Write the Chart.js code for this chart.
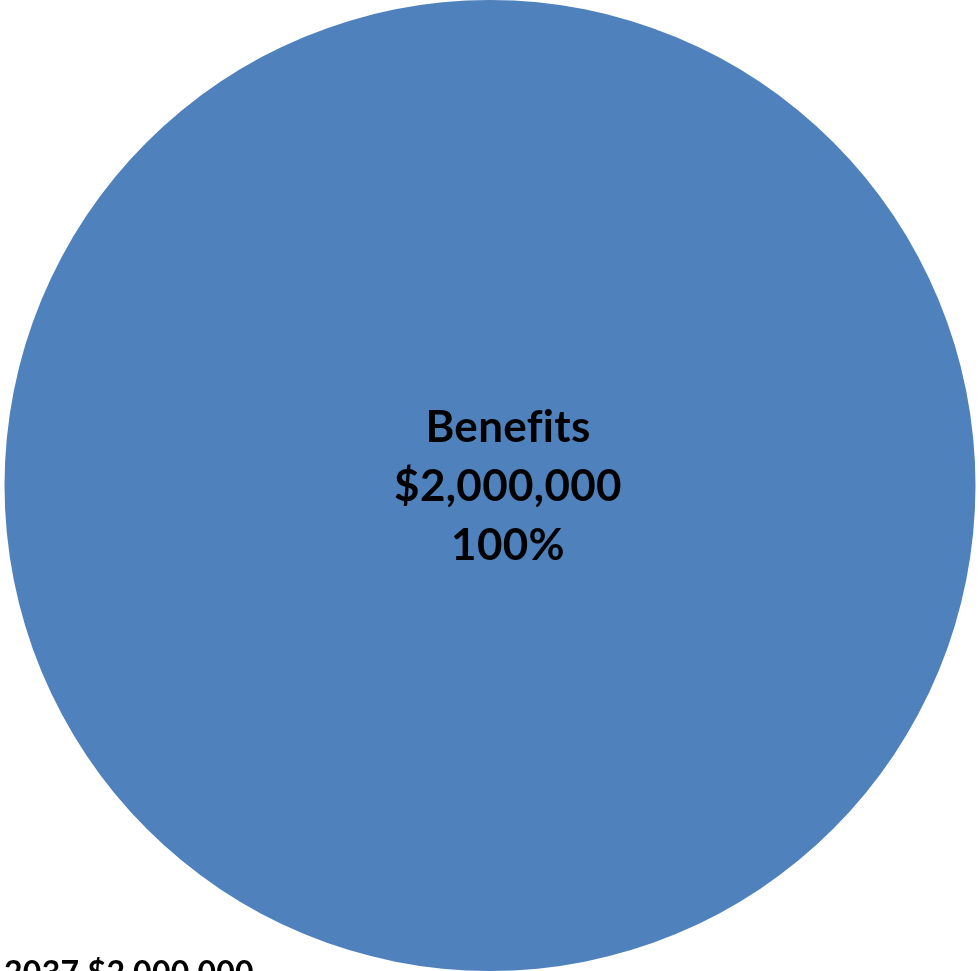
<!DOCTYPE html>
<html>
<head>
<meta charset="utf-8">
<script src="https://cdn.jsdelivr.net/npm/chart.js@4"></script>
<style>
  html, body { margin: 0; padding: 0; background: #fff; overflow: hidden; }
  #pie { display: block; }
</style>
</head>
<body>
<canvas id="pie" width="979" height="971"></canvas>
<script>
const categories = ['Benefits']
const amounts = [2000000]
const sliceColors = ['#4F81BD']
const yearLabel = '2037'

const money = (v) => '$' + v.toLocaleString('en-US')
const total = amounts.reduce((a, b) => a + b, 0)

// label inside each slice: name, amount, share
const sliceLabels = {
    id: 'sliceLabels',
    afterDatasetsDraw(chart) {
        const ctx = chart.ctx
        const meta = chart.getDatasetMeta(0)
        ctx.save()
        ctx.font = 'bold 44px Lato'
        ctx.letterSpacing = '0.3px' // keeps "fi" from turning into a ligature
        ctx.fillStyle = '#000'
        ctx.textAlign = 'center'
        ctx.textBaseline = 'middle'
        meta.data.forEach((arc, i) => {
            const v = amounts[i]
            // a lone full slice gets its label just right of the centre
            let x = arc.x + 18, y = arc.y
            if (amounts.length > 1) {
                const p = arc.tooltipPosition()
                x = p.x; y = p.y
            }
            const lines = [categories[i], money(v), Math.round(v / total * 100) + '%']
            lines.forEach((t, k) => ctx.fillText(t, x, y - 58 + k * 59))
        })
        ctx.restore()
    }
}

// year total written in the lower left corner
const yearTotal = {
    id: 'yearTotal',
    afterDraw(chart) {
        const ctx = chart.ctx
        ctx.save()
        ctx.font = 'bold 32px Lato'
        ctx.letterSpacing = '0.3px'
        ctx.fillStyle = '#000'
        ctx.textAlign = 'left'
        ctx.textBaseline = 'alphabetic'
        ctx.fillText(yearLabel + ' ' + money(total), 4, 984)
        ctx.restore()
    }
}

new Chart(document.getElementById('pie'), {
    type: 'pie',
    data: {
        labels: categories,
        datasets: [{
            data: amounts,
            backgroundColor: sliceColors,
            borderWidth: 0
        }]
    },
    options: {
        responsive: false,
        animation: false,
        layout: { padding: { left: 4, right: 3, top: 0, bottom: 0 } },
        plugins: {
            legend: { display: false },
            tooltip: { enabled: false }
        }
    },
    plugins: [sliceLabels, yearTotal]
})
</script>
</body>
</html>
